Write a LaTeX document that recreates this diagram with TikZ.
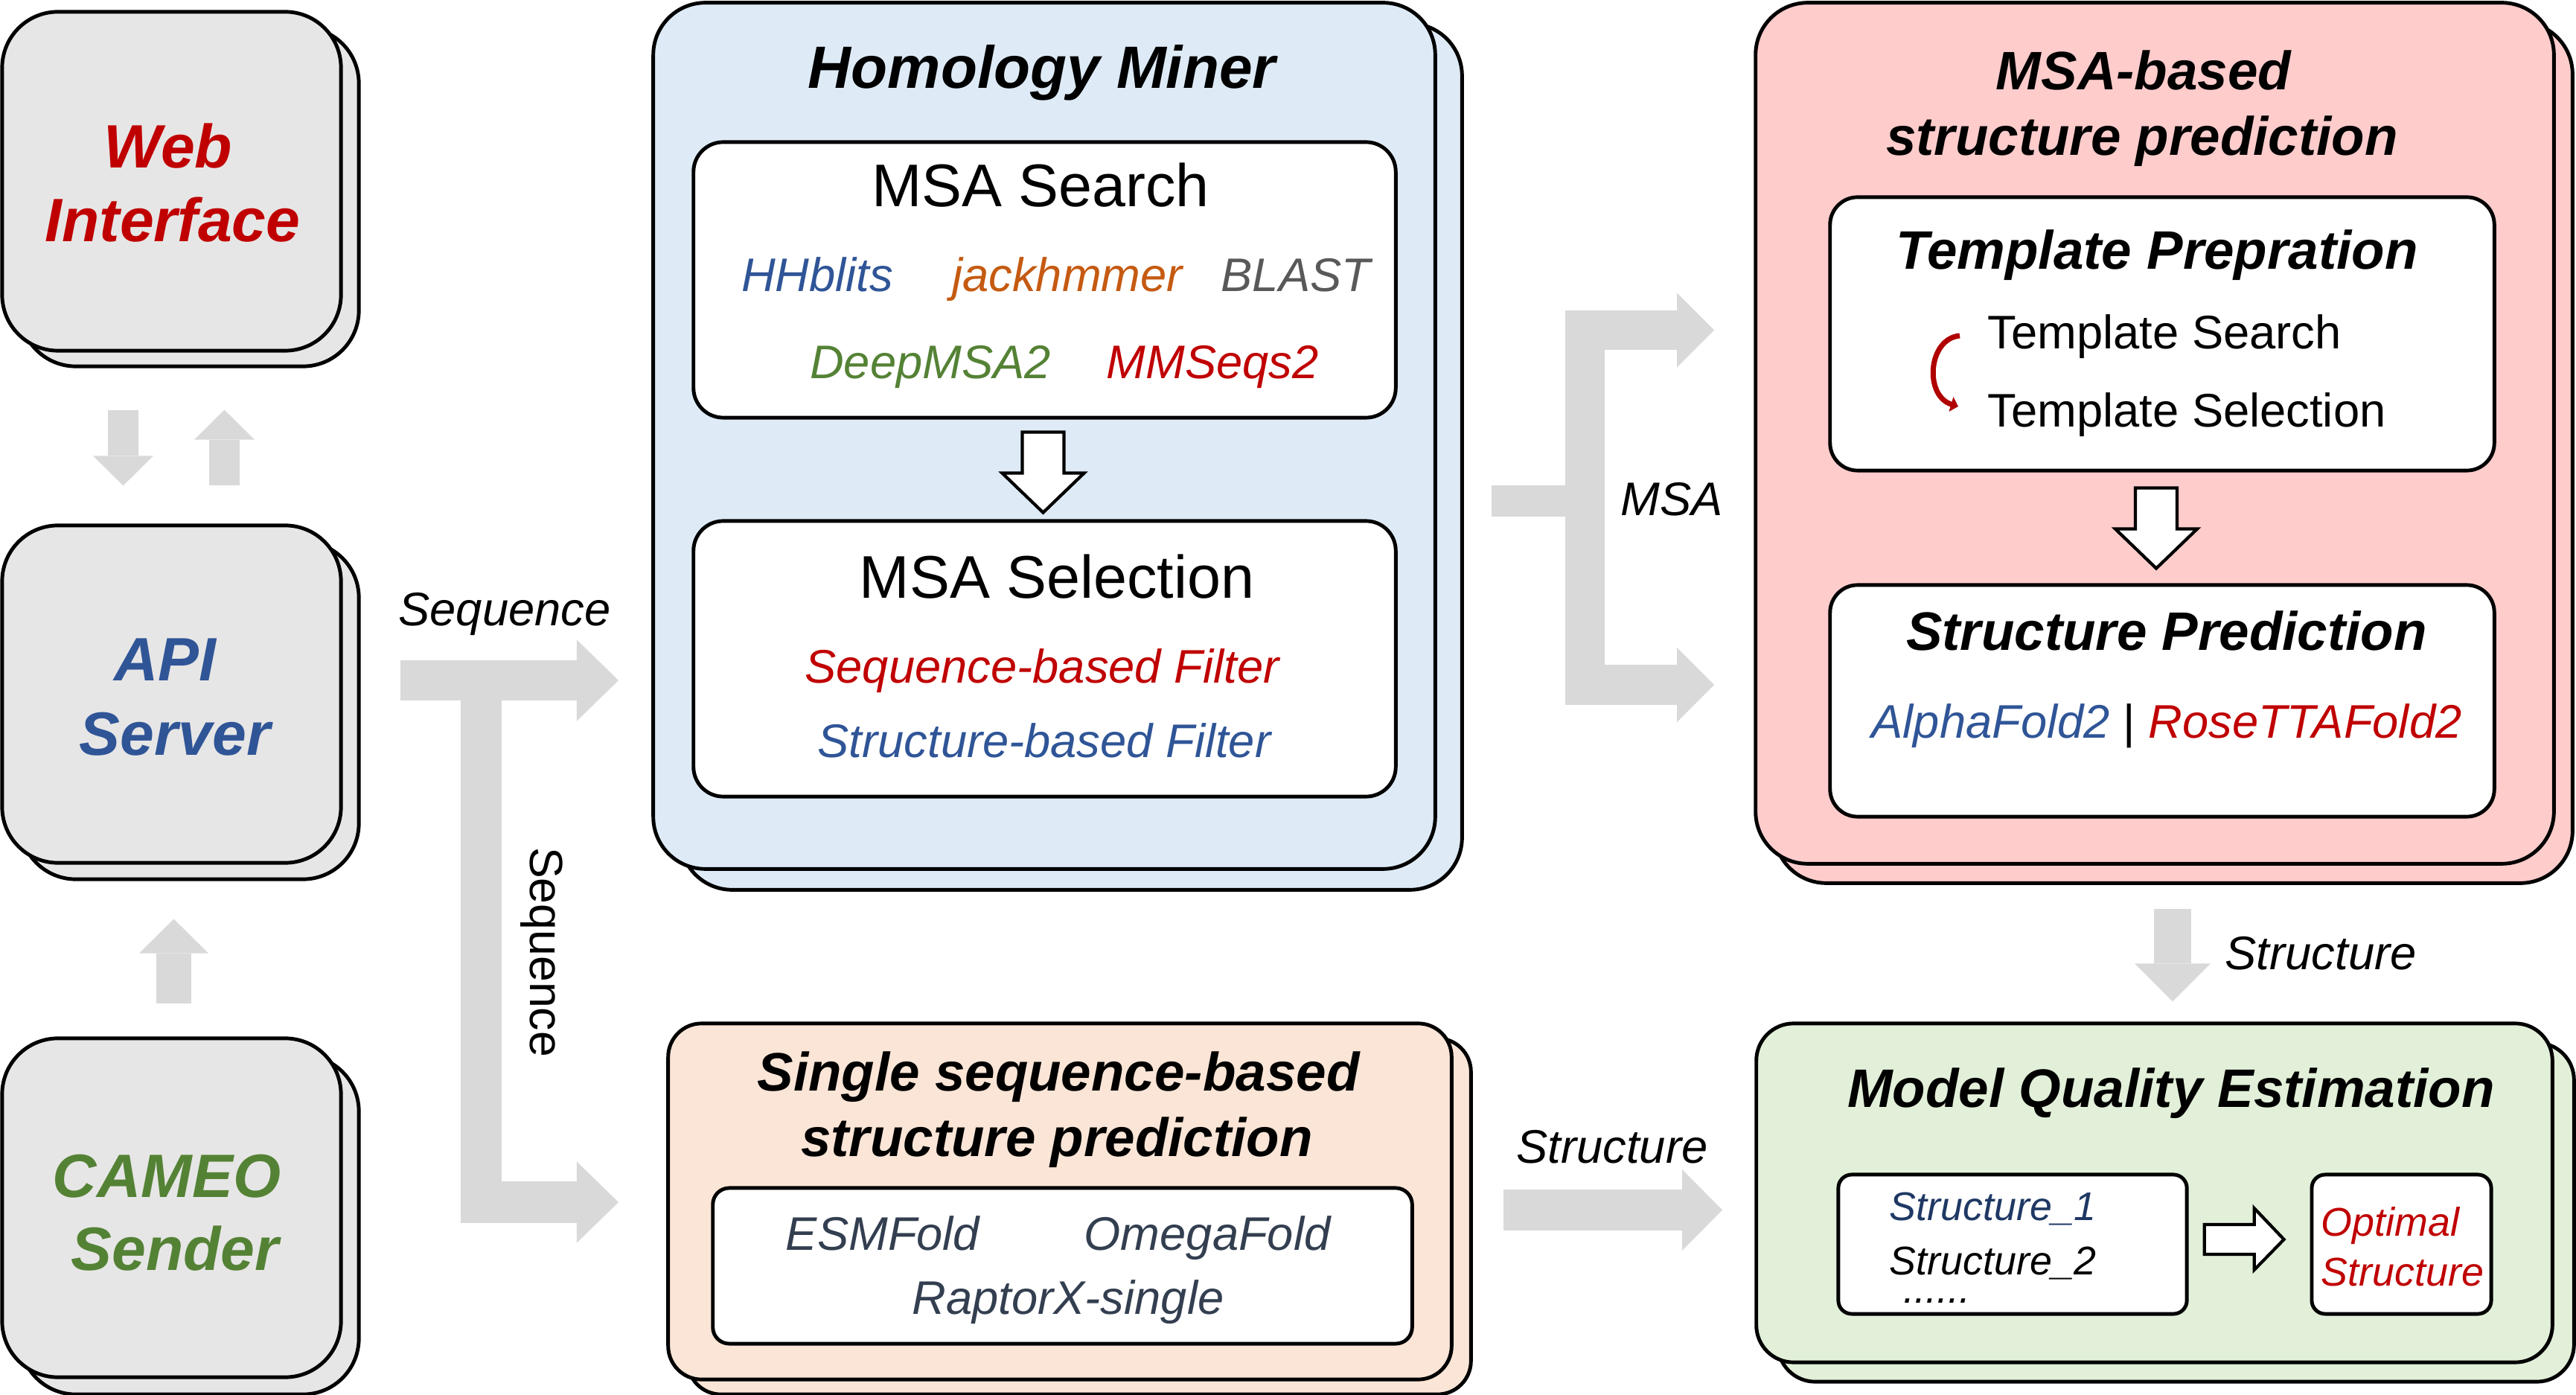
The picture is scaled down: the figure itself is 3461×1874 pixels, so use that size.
\documentclass[tikz,border=0pt]{standalone}
\usepackage{fontspec}
\setmainfont{Liberation Sans}
\usetikzlibrary{arrows.meta,shadows,calc}

\definecolor{webred}{HTML}{C00000}
\definecolor{apiblue}{HTML}{2F5597}
\definecolor{cameogreen}{HTML}{548235}
\definecolor{jackorange}{HTML}{C55A11}
\definecolor{blastgray}{HTML}{595959}
\definecolor{foldgray}{HTML}{333F50}
\definecolor{navy}{HTML}{1F3864}
\definecolor{loopred}{HTML}{B00000}
\definecolor{boxgray}{HTML}{E7E6E6}
\definecolor{minerblue}{HTML}{DEEBF7}
\definecolor{msapink}{HTML}{FFCCCC}
\definecolor{singlepeach}{HTML}{FBE5D6}
\definecolor{mqegreen}{HTML}{E2F0D9}
\definecolor{flowgray}{HTML}{D9D9D9}

\tikzset{
  panel/.style n args={4}{draw=black, line width=1.4pt, fill=#1, rounded corners=#2,
    inner sep=0pt,
    copy shadow={shadow xshift=#3, shadow yshift=-#4, fill=#1, draw=black, line width=1.4pt}},
  innerbox/.style={draw=black, line width=1.4pt, fill=white, rounded corners=#1, inner sep=0pt},
  flow/.style={draw=flowgray, line width=#1, line join=miter},
  hollow/.style={draw=black, line width=1.2pt, fill=white, line join=miter},
  bigname/.style={font=\fontsize{23.4}{28}\selectfont\bfseries\itshape, anchor=base, inner sep=0pt},
  headline/.style={font=\fontsize{22.8}{27}\selectfont\bfseries\itshape, anchor=base, inner sep=0pt},
  boxhead/.style={font=\fontsize{23}{27}\selectfont, anchor=base, inner sep=0pt},
  subtitle/.style={font=\fontsize{20.7}{25}\selectfont\bfseries\itshape, anchor=base, inner sep=0pt},
  tool/.style={font=\fontsize{18}{22}\selectfont\itshape, anchor=base, inner sep=0pt},
  plain/.style={font=\fontsize{18}{22}\selectfont, anchor=base west, inner sep=0pt},
  model/.style={font=\fontsize{15.3}{18}\selectfont\itshape, anchor=base west, inner sep=0pt},
  pics/hollowdown/.style={code={
    \draw[hollow] (-28,0) -- (28,0) -- (28,55) -- (55,55) -- (0,108) -- (-55,55) -- (-28,55) -- cycle;}}
}

\begin{document}
\begin{tikzpicture}[x=0.01cm, y=-0.01cm]
  \useasboundingbox (0,0) rectangle (3461,1874);

  % left column
  \node[panel={boxgray}{0.75cm}{2.4mm}{2.1mm}, minimum width=4.55cm, minimum height=4.55cm] (web) at (230.5,243.5) {};
  \node[panel={boxgray}{0.75cm}{2.4mm}{2.2mm}, minimum width=4.55cm, minimum height=4.53cm] (api) at (230.5,932.5) {};
  \node[panel={boxgray}{0.75cm}{2.4mm}{2.3mm}, minimum width=4.55cm, minimum height=4.55cm] (cameo) at (230.5,1622.5) {};
  \node[bigname, text=webred] (webA) at (226,226) {Web};
  \node[bigname, text=webred] (webB) at (232,325) {Interface};
  \node[bigname, text=apiblue] (apiA) at (222,915) {API};
  \node[bigname, text=apiblue] (apiB) at (235,1015) {Server};
  \node[bigname, text=cameogreen] (cameoA) at (224,1608) {CAMEO};
  \node[bigname, text=cameogreen] (cameoB) at (235,1706) {Sender};

  % homology miner
  \node[panel={minerblue}{0.7cm}{3.6mm}{2.8mm}, minimum width=10.5cm, minimum height=11.63cm] (miner) at (1403,585.5) {};
  \node[innerbox=0.4cm, minimum width=9.43cm, minimum height=3.7cm] (search) at (1403.5,376) {};
  \node[innerbox=0.4cm, minimum width=9.43cm, minimum height=3.7cm] (select) at (1403.5,885) {};
  \node[headline] (minerT) at (1400,119) {Homology Miner};
  \node[boxhead] (searchT) at (1398,278) {MSA Search};
  \node[tool, text=apiblue] (hhblits) at (1098,392) {HHblits};
  \node[tool, text=jackorange] (jackhmmer) at (1434,392) {jackhmmer};
  \node[tool, text=blastgray] (blast) at (1741,392) {BLAST};
  \node[tool, text=cameogreen] (deepmsa) at (1250,509) {DeepMSA2};
  \node[tool, text=webred] (mmseqs) at (1629,509) {MMSeqs2};
  \node[boxhead] (selectT) at (1420,804) {MSA Selection};
  \node[tool, text=webred] (seqfilter) at (1400,918) {Sequence-based Filter};
  \node[tool, text=apiblue] (strfilter) at (1403,1018) {Structure-based Filter};
  \pic at ($(search.south)+(-2,17)$) {hollowdown};

  % msa-based prediction
  \node[panel={msapink}{0.7cm}{2.5mm}{2.6mm}, minimum width=10.72cm, minimum height=11.56cm] (msapred) at (2895,582) {};
  \node[innerbox=0.37cm, minimum width=8.92cm, minimum height=3.67cm] (template) at (2905,448.5) {};
  \node[innerbox=0.37cm, minimum width=8.92cm, minimum height=3.11cm] (predict) at (2905,941.5) {};
  \node[subtitle] (msapredA) at (2880,121) {MSA-based};
  \node[subtitle] (msapredB) at (2878,209) {structure prediction};
  \node[subtitle] (templateT) at (2898,362) {Template Prepration};
  \node[plain] (tsearch) at (2670,469) {Template Search};
  \node[plain] (tselect) at (2670,574) {Template Selection};
  \node[subtitle] (predictT) at (2911,874) {Structure Prediction};
  \node[tool] (afold) at (2911,992) {\textcolor{apiblue}{AlphaFold2} {\upshape|} \textcolor{webred}{RoseTTAFold2}};
  \draw[loopred, line width=2pt, -{Triangle[length=0.1cm, width=0.2cm]}]
    ($(tsearch.base west)+(-37,-18)$) .. controls (2590,455) and (2585,532) .. ($(tselect.base west)+(-39,-28)$);
  \pic at ($(template.south)+(-8,21)$) {hollowdown};

  % single sequence prediction
  \node[panel={singlepeach}{0.45cm}{2.6mm}{2.0mm}, minimum width=10.52cm, minimum height=4.78cm] (single) at (1424,1614) {};
  \node[innerbox=0.22cm, minimum width=9.39cm, minimum height=2.09cm] (folds) at (1427.5,1700.5) {};
  \node[subtitle] (singleA) at (1422,1465) {Single sequence-based};
  \node[subtitle] (singleB) at (1420,1553) {structure prediction};
  \node[tool, text=foldgray] (esmfold) at (1186,1679) {ESMFold};
  \node[tool, text=foldgray] (omegafold) at (1622,1679) {OmegaFold};
  \node[tool, text=foldgray] (raptorx) at (1435,1765) {RaptorX-single};

  % model quality estimation
  \node[panel={mqegreen}{0.5cm}{2.9mm}{2.6mm}, minimum width=10.69cm, minimum height=4.55cm] (mqe) at (2894.5,1602.5) {};
  \node[innerbox=0.18cm, minimum width=4.68cm, minimum height=1.87cm] (models) at (2704,1671.5) {};
  \node[innerbox=0.18cm, minimum width=2.41cm, minimum height=1.87cm] (optimal) at (3226.5,1671.5) {};
  \node[subtitle] (mqeT) at (2917,1487) {Model Quality Estimation};
  \node[model, text=navy] (struct1) at (2538,1639) {Structure\_1};
  \node[model] (struct2) at (2538,1712) {Structure\_2};
  \node[model] (dots) at (2557,1750) {......};
  \node[model, text=webred] (optA) at (3118,1660) {Optimal};
  \node[model, text=webred] (optB) at (3118,1727) {Structure};
  \draw[hollow] ($(models.east)+(21,-26.5)$) -- ++(67,0) -- ++(0,-22) -- ++(40,42)
    -- ++(-40,41) -- ++(0,-21) -- ++(-67,0) -- cycle;

  % gray flows
  \draw[flow=0.41cm, -{Triangle[length=0.4cm, width=0.81cm, line width=0pt]}]
    ($(web.south)+(-65,77)$) -- ($(api.north)+(-65,-51)$);
  \draw[flow=0.41cm, -{Triangle[length=0.4cm, width=0.81cm, line width=0pt]}]
    ($(api.north)+(71,-51)$) -- ($(web.south)+(71,77)$);
  \draw[flow=0.47cm, -{Triangle[length=0.46cm, width=0.93cm, line width=0pt]}]
    ($(cameo.north)+(3,-44)$) -- ($(api.south)+(3,73)$);

  \coordinate (seqstart) at ($(api.east)+(77,-18.5)$);
  \coordinate (seqfork) at (646.5,914);
  \coordinate (minerin) at (831,914);
  \coordinate (singlein) at (831,1615);
  \draw[flow=0.54cm, -{Triangle[length=0.56cm, width=1.09cm, line width=0pt]}] (seqstart) -- (minerin);
  \draw[flow=0.55cm, -{Triangle[length=0.56cm, width=1.09cm, line width=0pt]}] (seqfork) |- (singlein);
  \node[tool] (seqlabel) at (678,841) {Sequence};
  \node[font=\fontsize{17.8}{22}\selectfont, rotate=-90] (seqlabelB) at (728,1279) {Sequence};

  \coordinate (msastart) at ($(miner.east)+(73,87.5)$);
  \coordinate (msafork) at (2129,673);
  \coordinate (templatein) at (2303,443.5);
  \coordinate (predictin) at (2303,920);
  \draw[flow=0.41cm] (msastart) -- (msafork);
  \draw[flow=0.53cm, {Triangle[length=0.5cm, width=1.0cm, line width=0pt]}-{Triangle[length=0.5cm, width=1.0cm, line width=0pt]}]
    (predictin) -| (msafork |- templatein) -- (templatein);
  \node[tool] (msalabel) at (2246,693) {MSA};

  \coordinate (singleout) at (2020,1625.5);
  \coordinate (mqein) at (2314,1625.5);
  \draw[flow=0.55cm, -{Triangle[length=0.54cm, width=1.09cm, line width=0pt]}] (singleout) -- (mqein);
  \node[tool] (strlabelB) at (2166,1562) {Structure};

  \draw[flow=0.5cm, -{Triangle[length=0.51cm, width=1.02cm, line width=0pt]}]
    ($(msapred.south)+(24,58)$) -- ($(mqe.north)+(24.5,-27)$);
  \node[tool, anchor=base west] (strlabelA) at (2989,1302) {Structure};
\end{tikzpicture}
\end{document}
